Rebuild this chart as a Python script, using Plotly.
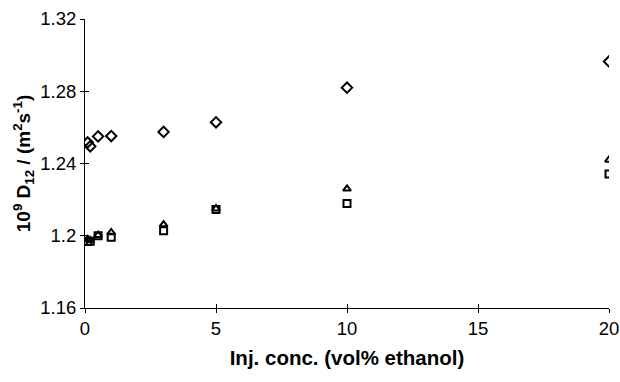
import plotly.graph_objects as go

# Injection concentration (vol% ethanol)
conc = [0.1, 0.2, 0.5, 1, 3, 5, 10, 20]
# 10^9 D12 values for three series
diamond_vals = [1.2517, 1.2495, 1.2550, 1.2552, 1.2575, 1.2628, 1.2820, 1.2965]
triangle_vals = [1.1980, 1.1975, 1.2003, 1.2018, 1.2062, 1.2150, 1.2260, 1.2420]
square_vals = [1.1968, 1.1970, 1.2000, 1.1992, 1.2028, 1.2145, 1.2178, 1.2342]

x_ticks = [0, 5, 10, 15, 20]
y_ticks = [1.16, 1.20, 1.24, 1.28, 1.32]
y_tick_text = ["1.16", "1.2", "1.24", "1.28", "1.32"]

fig = go.Figure()
series = [
    ("diamond", diamond_vals, "diamond-open", 8),
    ("triangle", triangle_vals, "triangle-up-open", 7),
    ("square", square_vals, "square-open", 7),
]
for name, vals, sym, size in series:
    fig.add_trace(go.Scatter(
        x=conc, y=vals, mode="markers", name=name,
        marker=dict(symbol=sym, size=size, color="black", line=dict(color="black", width=2)),
        showlegend=False,
    ))

font_family = "Liberation Sans, Arial, sans-serif"
fig.update_layout(
    width=620, height=382,
    margin=dict(l=85, r=11, t=19, b=74, autoexpand=False),
    paper_bgcolor="white", plot_bgcolor="white",
    font=dict(family=font_family, color="black", size=18.5),
    xaxis=dict(
        range=[0, 20], tickvals=x_ticks, ticks="outside", ticklen=4, tickwidth=1,
        tickcolor="black", showline=True, linecolor="black", linewidth=1,
        showgrid=False, zeroline=False, tickfont=dict(size=18.5), automargin=False,
        title=dict(text="<b>Inj. conc. (vol% ethanol)</b>", font=dict(size=20.5), standoff=12),
    ),
    yaxis=dict(
        range=[1.16, 1.32], tickvals=y_ticks, ticktext=y_tick_text, ticks="outside",
        ticklen=4, tickwidth=1, tickcolor="black", showline=True, linecolor="black",
        linewidth=1, showgrid=False, zeroline=False, tickfont=dict(size=18.5), automargin=False,
        title=dict(text="<b>10<sup>9</sup> D<sub>12</sub> / (m<sup>2</sup>s<sup>-1</sup>)</b>",
                   font=dict(size=19), standoff=4),
    ),
    xaxis2=dict(
        range=[0, 20], tickvals=x_ticks, ticks="inside", ticklen=4, tickcolor="black",
        showticklabels=False, showgrid=False, zeroline=False, overlaying="x",
        side="bottom", anchor="y",
    ),
    yaxis2=dict(
        range=[1.16, 1.32], tickvals=y_ticks, ticks="inside", ticklen=4, tickcolor="black",
        showticklabels=False, showgrid=False, zeroline=False, overlaying="y",
        side="left", anchor="x",
    ),
)
# invisible trace to activate the secondary axes for crossing ticks
fig.add_trace(go.Scatter(x=[None], y=[None], xaxis="x2", yaxis="y2", showlegend=False,
                         hoverinfo="skip"))

fig.write_html("out.html", config={"displayModeBar": False},
               post_script="document.body.style.margin='0px';")
